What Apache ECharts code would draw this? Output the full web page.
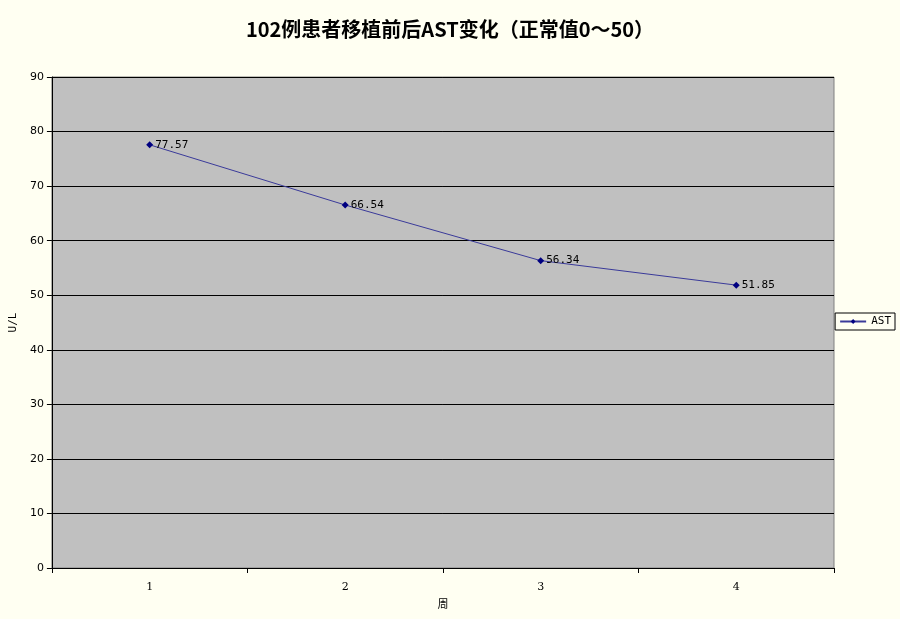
<!DOCTYPE html>
<html>
<head>
<meta charset="utf-8">
<script src="https://cdn.jsdelivr.net/npm/echarts@6/dist/echarts.min.js"></script>
<style>
html, body { margin: 0; padding: 0; background: #fffff2; }
#chart { width: 900px; height: 619px; }
</style>
</head>
<body>
<div id="chart"></div>
<script>
var weeks = ['1', '2', '3', '4'];
var astValues = [77.57, 66.54, 56.34, 51.85];

var option = {
    backgroundColor: '#fffff2',
    title: {
        text: '102例患者移植前后AST变化（正常值0～50）',
        left: 'center',
        top: 14,
        textStyle: { fontFamily: 'Noto Sans CJK SC', fontSize: 20, fontWeight: 'bold', color: '#000' }
    },
    legend: {
        right: 5,
        top: 313,
        orient: 'vertical',
        itemWidth: 26,
        itemHeight: 6,
        borderColor: '#000',
        borderWidth: 1,
        borderRadius: 0,
        padding: [3, 4],
        textStyle: { fontFamily: 'DejaVu Sans Mono', fontSize: 11, color: '#000' },
        data: ['AST']
    },
    grid: { left: 50, right: 66, top: 77, bottom: 51, backgroundColor: '#c0c0c0', show: true, borderWidth: 1, borderColor: '#808080' },
    xAxis: {
        type: 'category',
        data: weeks,
        boundaryGap: true,
        name: '周',
        nameLocation: 'middle',
        nameGap: 30,
        nameTextStyle: { fontFamily: 'Noto Sans CJK SC', fontSize: 11, color: '#000' },
        axisLine: { lineStyle: { color: '#000' } },
        axisTick: { show: true, interval: 0, lineStyle: { color: '#000' } },
        axisLabel: { fontFamily: 'DejaVu Serif', fontSize: 11, color: '#000', margin: 14 }
    },
    yAxis: {
        type: 'value',
        min: 0,
        max: 90,
        interval: 10,
        name: 'U/L',
        nameLocation: 'middle',
        nameGap: 32,
        nameTextStyle: { fontFamily: 'DejaVu Sans Mono', fontSize: 11, color: '#000' },
        axisLine: { show: true, lineStyle: { color: '#000' } },
        axisTick: { show: true, lineStyle: { color: '#000' } },
        axisLabel: { fontFamily: 'DejaVu Sans', fontSize: 11, color: '#000' },
        splitLine: { lineStyle: { color: '#000', width: 1 } }
    },
    series: [{
        name: 'AST',
        type: 'line',
        data: astValues,
        symbol: 'diamond',
        symbolSize: 7,
        color: '#000080',
        lineStyle: { color: '#3a3a9a', width: 1 },
        label: {
            show: true,
            position: 'right',
            distance: 2,
            fontFamily: 'DejaVu Sans Mono',
            fontSize: 11,
            color: '#000',
            formatter: function (p) { return p.value.toFixed(2); }
        }
    }]
};

echarts.init(document.getElementById('chart')).setOption(option);
</script>
</body>
</html>
